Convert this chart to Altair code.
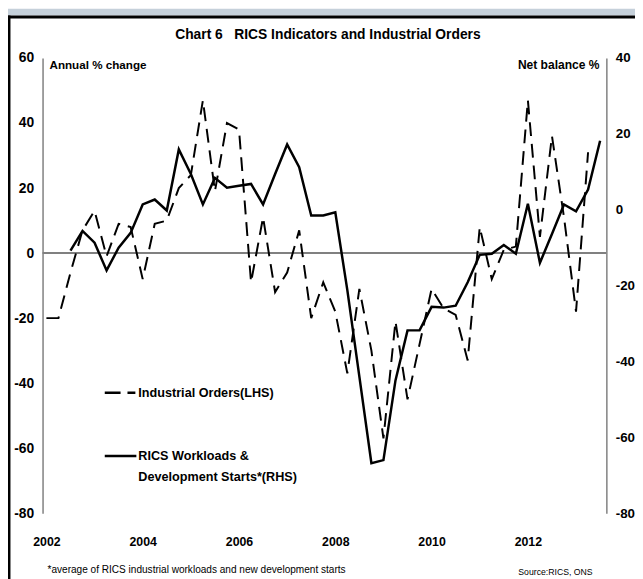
import altair as alt
import pandas as pd

# ---- data (quarterly) ----
orders_start = 2002.0   # Industrial Orders, annual % change (LHS)
orders = [-20, -20, -6, 7, 13, -1, 9, 8, -8, 9, 10, 20, 24, 47, 19, 40, 38, -9, 11, -12,
          -6, 7, -20, -9, -18, -37, -11, -30, -57, -21, -45, -28, -11, -17, -19, -33, 8, -8,
          1, 2, 47, 5, 36, 11, -18, 31]
rics_start = 2002.5     # RICS workloads & development starts, net balance % (RHS)
rics = [-10.8, -5.6, -8.7, -16.0, -10.0, -6.1, 1.4, 2.7, -0.2, 15.9,
        9.4, 1.4, 8.4, 5.8, 6.3, 6.8, 1.4, 9.4, 17.2, 11.2,
        -1.5, -1.5, -0.7, -21.2, -44.0, -66.8, -66.0, -45.0, -31.8, -31.8,
        -25.6, -25.8, -25.3, -19.1, -11.9, -11.6, -9.3, -11.6, 1.6, -14.0,
        -6.4, 1.4, -0.4, 5.3, 18.2]
year_ticks = [2002, 2004, 2006, 2008, 2010, 2012]
left_ticks = [60, 40, 20, 0, -20, -40, -60, -80]
right_ticks = [40, 20, 0, -20, -40, -60, -80]

df_orders = pd.DataFrame({"t": [orders_start + 0.25 * i for i in range(len(orders))], "orders": orders})
df_rics = pd.DataFrame({"t": [rics_start + 0.25 * i for i in range(len(rics))], "rics": rics})

FONT = "Liberation Sans"
W, H = 571, 461
GRAY = "#808080"

xscale = alt.Scale(domain=[2001.92, 2013.63], nice=False, zero=False)
lscale = alt.Scale(domain=[-80, 60], nice=False, zero=False)
rscale = alt.Scale(domain=[-80, 40], nice=False, zero=False)

xaxis = alt.Axis(values=year_ticks, format="d", title=None, grid=False, ticks=False, domain=False,
                 labelFont=FONT, labelFontSize=12.5, labelFontWeight="bold", labelColor="black",
                 labelPadding=23, zindex=1)

one = pd.DataFrame({"a": [0]})

# page decoration: grey strip on top, black frame lines
top_strip = alt.Chart(one).mark_rect(fill="#c5d0da").encode(
    x=alt.value(-40), x2=alt.value(700), y=alt.value(-50), y2=alt.value(-43))
frame_top = alt.Chart(one).mark_rule(color="black", strokeWidth=3).encode(
    x=alt.value(-40), x2=alt.value(700), y=alt.value(-41.5))
frame_left = alt.Chart(one).mark_rule(color="black", strokeWidth=3).encode(
    x=alt.value(-34), y=alt.value(-43), y2=alt.value(700))

zero = alt.Chart(one).mark_rule(color=GRAY, strokeWidth=2).encode(
    y=alt.Y("a:Q", scale=lscale, axis=None), x=alt.value(0), x2=alt.value(W))

HYPHEN = "'' + datum.value"

line_orders = alt.Chart(df_orders).mark_line(color="black", strokeWidth=2, strokeDash=[14, 8]).encode(
    x=alt.X("t:Q", scale=xscale, axis=xaxis),
    y=alt.Y("orders:Q", scale=lscale,
            axis=alt.Axis(orient="left", values=left_ticks, title=None, grid=False, ticks=False,
                          domain=True, domainColor=GRAY, domainWidth=1.5, zindex=1,
                          labelExpr=HYPHEN,
                          labelFont=FONT, labelFontSize=14, labelFontWeight="bold",
                          labelColor="black", labelPadding=9)))

line_rics = alt.Chart(df_rics).mark_line(color="black", strokeWidth=2.5).encode(
    x=alt.X("t:Q", scale=xscale, axis=xaxis),
    y=alt.Y("rics:Q", scale=rscale,
            axis=alt.Axis(orient="right", values=right_ticks, title=None, grid=False, ticks=False,
                          domain=True, domainColor=GRAY, domainWidth=1.5, zindex=1,
                          labelExpr=HYPHEN,
                          labelFont=FONT, labelFontSize=13.5, labelFontWeight="bold",
                          labelColor="black", labelPadding=9)))


def txt(s, x, y, size=14, align="left", weight="bold", baseline="middle"):
    return alt.Chart(one).mark_text(text=s, font=FONT, fontSize=size, fontWeight=weight, align=align,
                                    baseline=baseline, color="black").encode(
        x=alt.value(x), y=alt.value(y))


leg_dash = alt.Chart(one).mark_rule(color="black", strokeWidth=2.5, strokeDash=[16, 7]).encode(
    x=alt.value(63), x2=alt.value(94), y=alt.value(339))
leg_solid = alt.Chart(one).mark_rule(color="black", strokeWidth=2.5).encode(
    x=alt.value(63), x2=alt.value(95), y=alt.value(403))

NB = "\u00a0"
texts = [
    txt("Chart 6" + NB * 3 + "RICS Indicators and Industrial Orders", 289, -23, size=14, align="center"),
    txt("Annual % change", 7, 7, size=11.8),
    txt("Net balance %", 564, 7, size=12.2, align="right"),
    txt("Industrial Orders(LHS)", 97, 339, size=12.8),
    txt("RICS Workloads &", 97, 403, size=12.8),
    txt("Development Starts*(RHS)", 97, 424, size=12.8),
    txt("*average of RICS industrial workloads and new development starts", 5, 519, size=10.2, weight="normal"),
    txt("Source:RICS, ONS", 557, 521, size=8.8, align="right", weight="normal"),
]

chart = alt.layer(top_strip, frame_top, frame_left, zero, line_orders, line_rics, leg_dash, leg_solid,
                  *texts).resolve_scale(
    y="independent"
).properties(
    width=W, height=H, background="white",
    autosize=alt.AutoSizeParams(type="none"),
    padding={"left": 35, "top": 47, "right": 29, "bottom": 63},
).configure_view(stroke=None)

chart.save("out.html", embed_options={"renderer": "svg", "actions": False})
